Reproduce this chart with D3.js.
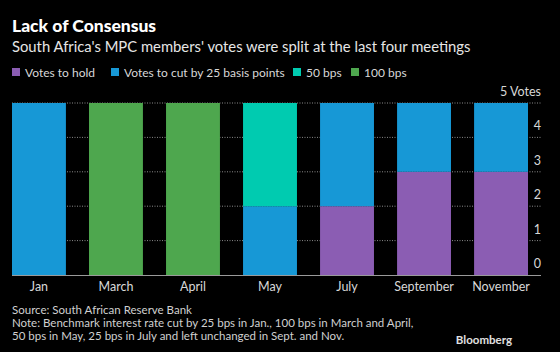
<!DOCTYPE html>
<html>
<head>
<meta charset="utf-8">
<script src="https://cdn.jsdelivr.net/npm/d3@7"></script>
<style>
  body { margin: 0; background: #000; }
  text { font-family: Lato, sans-serif; }
</style>
</head>
<body>
<div id="chart"></div>
<script>
// data
const months = ["Jan", "March", "April", "May", "July", "September", "November"];
const seriesKeys = ["hold", "cut25", "cut50", "cut100"];
const seriesNames = ["Votes to hold", "Votes to cut by 25 basis points", "50 bps", "100 bps"];
const seriesColors = ["#8b5db3", "#1798d6", "#00cbb0", "#4ea74e"];
const hold = [0, 0, 0, 0, 2, 3, 3];
const cut25 = [5, 0, 0, 2, 3, 2, 2];
const cut50 = [0, 0, 0, 3, 0, 0, 0];
const cut100 = [0, 5, 5, 0, 0, 0, 0];
const yTicks = [0, 1, 2, 3, 4, 5];

const W = 560, H = 352;
const svg = d3.select("#chart").append("svg")
    .attr("width", W).attr("height", H)
    .style("background", "#000");

// titles
svg.append("text").attr("x", 12).attr("y", 32)
    .attr("fill", "#fff").attr("font-size", 17.5).attr("font-weight", 900)
    .text("Lack of Consensus");
svg.append("text").attr("x", 12).attr("y", 52)
    .attr("fill", "#e6e6e6").attr("font-size", 14.8)
    .text("South Africa's MPC members' votes were split at the last four meetings");

// legend
const legendX = [12, 111, 293, 351];
const legend = svg.selectAll("g.leg").data(seriesNames).join("g")
    .attr("transform", (d, i) => `translate(${legendX[i]}, 68)`);
legend.append("rect").attr("width", 8).attr("height", 8)
    .attr("fill", (d, i) => seriesColors[i]);
legend.append("text").attr("x", 13).attr("y", 8.5)
    .attr("fill", "#d8d8d8").attr("font-size", 12)
    .text(d => d);

// table for stacking
const table = months.map((m, i) => ({
    month: m, hold: hold[i], cut25: cut25[i], cut50: cut50[i], cut100: cut100[i]
}));
const stacked = d3.stack().keys(seriesKeys)(table);

const x = d3.scaleBand().domain(months).range([12, 528]).paddingInner(0.3).paddingOuter(0);
const y = d3.scaleLinear().domain([0, 5]).range([275, 103]);

// dotted gridlines
svg.append("g").selectAll("line").data(yTicks.slice(1)).join("line")
    .attr("x1", 12).attr("x2", 541)
    .attr("y1", d => y(d)).attr("y2", d => y(d))
    .attr("stroke", "#8a8a8a").attr("stroke-width", 1)
    .attr("stroke-dasharray", "1,1.5");

// bars
svg.append("g").selectAll("g").data(stacked).join("g")
    .attr("fill", (d, i) => seriesColors[i])
    .selectAll("rect").data(d => d).join("rect")
    .attr("x", d => x(d.data.month))
    .attr("width", x.bandwidth())
    .attr("y", d => y(d[1]))
    .attr("height", d => y(d[0]) - y(d[1]));

// baseline
svg.append("line").attr("x1", 12).attr("x2", 541)
    .attr("y1", y(0) + 0.5).attr("y2", y(0) + 0.5)
    .attr("stroke", "#9a9a9a").attr("stroke-width", 1);

// x axis labels
const xAxis = svg.append("g").attr("transform", `translate(0, ${y(0)})`)
    .call(d3.axisBottom(x).tickSize(0).tickPadding(7));
xAxis.select(".domain").remove();
xAxis.selectAll("text").attr("fill", "#d8d8d8").attr("font-size", 12.5)
    .style("font-family", "Lato, sans-serif");

// y axis labels on the right, sitting above the gridlines
const yAxis = svg.append("g").attr("transform", "translate(541, 0)")
    .call(d3.axisLeft(y).tickValues(yTicks)
        .tickFormat(d => d === 5 ? "5 Votes" : d)
        .tickSize(0).tickPadding(0));
yAxis.select(".domain").remove();
yAxis.selectAll("text").attr("fill", "#d8d8d8").attr("font-size", 12.5)
    .attr("dy", "-0.6em").attr("text-anchor", "end")
    .style("font-family", "Lato, sans-serif");

// footer
const foot = [
    "Source: South African Reserve Bank",
    "Note: Benchmark interest rate cut by 25 bps in Jan., 100 bps in March and April,",
    "50 bps in May, 25 bps in July and left unchanged in Sept. and Nov."
];
svg.append("g").selectAll("text").data(foot).join("text")
    .attr("x", 12).attr("y", (d, i) => 314 + i * 13)
    .attr("fill", "#d0d0d0").attr("font-size", 11.5)
    .text(d => d);
svg.append("text").attr("x", 512).attr("y", 344).attr("text-anchor", "end")
    .attr("fill", "#e0e0e0").attr("font-size", 11.5).attr("font-weight", "bold")
    .attr("font-family", "Liberation Sans, sans-serif")
    .text("Bloomberg");
</script>
</body>
</html>
